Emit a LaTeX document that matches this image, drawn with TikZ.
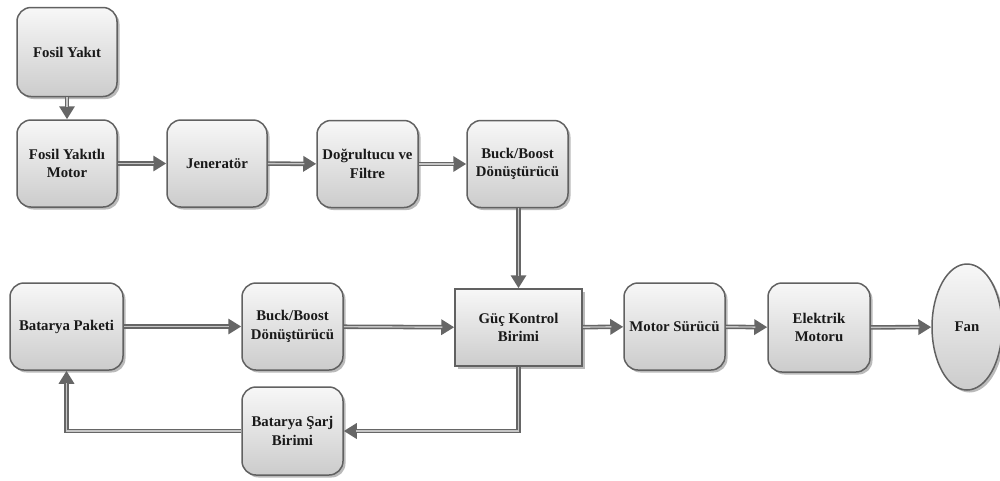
\documentclass[tikz,border=0pt]{standalone}
\usepackage{fontspec}
\setmainfont{Liberation Serif}
\usetikzlibrary{arrows.meta,shadows,shapes.geometric}
\tikzset{
  blk/.style={draw=black!62, line width=1.5pt, rounded corners=14pt,
    top color=gray!6, bottom color=gray!40, align=center,
    text=black!90, font=\fontsize{14.8}{18.5}\selectfont\bfseries,
    drop shadow={shadow xshift=2.5pt, shadow yshift=-2.5pt, fill=black!45, opacity=0.6},
    inner sep=0pt},
  rbox/.style={blk, rounded corners=0pt},
  ebox/.style={blk, ellipse, rounded corners=0pt},
  arr/.style={draw=black!60, line width=4.5pt,
    -{Triangle[length=13pt,width=15pt]},
    postaction={draw=gray!45, line width=1.4pt, -, shorten >=12pt}}
}
\begin{document}
\begin{tikzpicture}[x=1pt,y=-1pt]
\useasboundingbox (0,0) rectangle (1000,480);
\clip (0,0) rectangle (1000,480);
\node[blk, minimum width=100pt, minimum height=89pt] (fy) at (67,52) {Fosil Yakıt};
\node[blk, minimum width=100pt, minimum height=87pt] (fym) at (67,163.5) {Fosil Yakıtlı\\Motor};
\node[blk, minimum width=100pt, minimum height=87pt] (jen) at (217,163.5) {Jeneratör};
\node[blk, minimum width=101pt, minimum height=87pt] (dog) at (367.5,164) {Doğrultucu ve\\Filtre};
\node[blk, minimum width=101pt, minimum height=87pt] (bb1) at (517.5,164) {Buck/Boost\\Dönüştürücü};
\node[blk, minimum width=113pt, minimum height=87pt] (bp) at (66.5,326.5) {Batarya Paketi};
\node[blk, minimum width=101pt, minimum height=87pt] (bb2) at (292.5,326.5) {Buck/Boost\\Dönüştürücü};
\node[blk, minimum width=101pt, minimum height=88pt] (bs) at (292.5,431) {Batarya Şarj\\Birimi};
\node[rbox, minimum width=127pt, minimum height=77pt] (guc) at (518.5,327.5) {Güç Kontrol\\Birimi};
\node[blk, minimum width=101pt, minimum height=87pt] (ms) at (674.5,326.5) {Motor Sürücü};
\node[blk, minimum width=102pt, minimum height=89pt] (em) at (819,327.5) {Elektrik\\Motoru};
\node[ebox, minimum width=70pt, minimum height=126pt] (fan) at (967,327) {Fan};
\coordinate (c1) at (518,432);
\coordinate (c2) at (67,432);
\draw[arr] (fy) -- (fym);
\draw[arr] (fym) -- (jen);
\draw[arr] (jen) -- (dog);
\draw[arr] (dog) -- (bb1);
\draw[arr] (bb1.south -| guc.north) -- (guc.north);
\draw[arr] (bp) -- (bb2);
\draw[arr] (bb2) -- (guc);
\draw[arr] (guc) -- (ms);
\draw[arr] (ms) -- (em);
\draw[arr] (em) -- (fan);
\draw[arr] (guc.south) |- (bs.east);
\draw[arr] (bs.west) -| (bp.south);
\end{tikzpicture}
\end{document}
